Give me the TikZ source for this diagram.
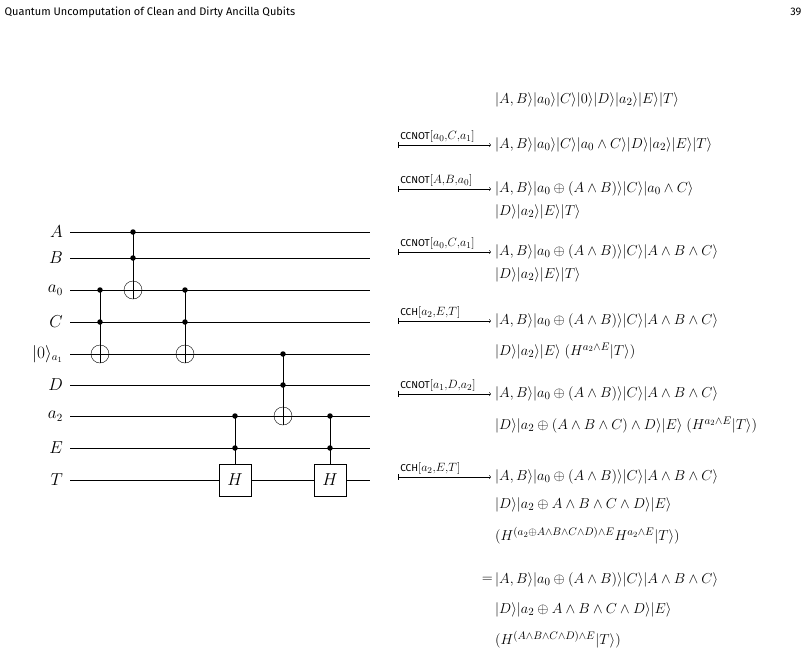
\documentclass[tikz,border=0pt]{standalone}
\usepackage{fontspec}
\setmainfont{Liberation Serif}
\setsansfont{Fira Sans}
\usetikzlibrary{calc}
\usetikzlibrary{arrows}
\newcommand{\gsf}[1]{{\sffamily\fontsize{10}{10}\selectfont #1}}
\begin{document}
\begin{tikzpicture}[x=1pt,y=-1pt,
  ctrl/.style={circle,fill,inner sep=0pt,minimum size=5.5pt},
  targ/.style={circle,draw,inner sep=0pt,minimum size=18pt},
  hbox/.style={draw,fill=white,minimum size=32pt,inner sep=0pt,font=\fontsize{16}{16}\selectfont},
  etat/.style={anchor=west,inner sep=0pt,font=\fontsize{15.5}{17}\selectfont},
  fleche/.style={|->,>=to,line width=.5pt},
  porte/.style={above,inner sep=2pt,font=\fontsize{12.5}{12}\selectfont}]
\useasboundingbox (0,0) rectangle (812,654);

% en-tete
\node[anchor=west,font=\sffamily\fontsize{11}{11}\selectfont] (titre) at (1,12) {Quantum Uncomputation of Clean and Dirty Ancilla Qubits};
\node[anchor=east,font=\sffamily\fontsize{11}{11}\selectfont] (page) at (805,12) {39};

% fils du circuit
\foreach \n/\y/\t in {A/232/$A$,B/258/$B$,a0/290/$a_0$,C/322/$C$,a1/354/$|0\rangle_{a_1}$,D/385/$D$,a2/416/$a_2$,E/448/$E$,T/480/$T$}{
  \node[anchor=east,inner sep=0pt,font=\fontsize{16}{16}\selectfont] (l\n) at (63,\y) {\t};
  \coordinate (d\n) at (70,\y);
  \coordinate (f\n) at (370,\y);
  \draw[line width=.8pt] (d\n) -- (f\n);
}

% portes CCNOT
\foreach \x/\a/\b/\c in {100/a0/C/a1,133/A/B/a0,185/a0/C/a1,283/a1/D/a2}{
  \node[ctrl] (c1\x) at (\x,0 |- d\a) {};
  \node[ctrl] (c2\x) at (\x,0 |- d\b) {};
  \node[targ] (t\x) at (\x,0 |- d\c) {};
  \draw[line width=.8pt] (c1\x.center) -- (t\x.south);
  \draw[line width=.8pt] (t\x.west) -- (t\x.east);
}
% portes CCH
\foreach \x in {235,330}{
  \node[ctrl] (c1\x) at (\x,0 |- da2) {};
  \node[ctrl] (c2\x) at (\x,0 |- dE) {};
  \node[hbox] (h\x) at (\x,0 |- dT) {$H$};
  \draw[line width=.8pt] (c1\x.center) -- (h\x.north);
}

% etats
\node[etat] (e1) at (495,100) {$|A,B\rangle|a_0\rangle|C\rangle|0\rangle|D\rangle|a_2\rangle|E\rangle|T\rangle$};
\node[etat] (e2) at (495,145) {$|A,B\rangle|a_0\rangle|C\rangle|a_0\wedge C\rangle|D\rangle|a_2\rangle|E\rangle|T\rangle$};
\node[etat] (e3) at (495,189) {$|A,B\rangle|a_0\oplus(A\wedge B)\rangle|C\rangle|a_0\wedge C\rangle$};
\node[etat] (e3b) at (495,212) {$|D\rangle|a_2\rangle|E\rangle|T\rangle$};
\node[etat] (e4) at (495,252) {$|A,B\rangle|a_0\oplus(A\wedge B)\rangle|C\rangle|A\wedge B\wedge C\rangle$};
\node[etat] (e4b) at (495,275) {$|D\rangle|a_2\rangle|E\rangle|T\rangle$};
\node[etat] (e5) at (495,321) {$|A,B\rangle|a_0\oplus(A\wedge B)\rangle|C\rangle|A\wedge B\wedge C\rangle$};
\node[etat] (e5b) at (495,351) {$|D\rangle|a_2\rangle|E\rangle\ (H^{a_2\wedge E}|T\rangle)$};
\node[etat] (e6) at (495,394) {$|A,B\rangle|a_0\oplus(A\wedge B)\rangle|C\rangle|A\wedge B\wedge C\rangle$};
\node[etat] (e6b) at (495,425) {$|D\rangle|a_2\oplus(A\wedge B\wedge C)\wedge D\rangle|E\rangle\ (H^{a_2\wedge E}|T\rangle)$};
\node[etat] (e7) at (495,477) {$|A,B\rangle|a_0\oplus(A\wedge B)\rangle|C\rangle|A\wedge B\wedge C\rangle$};
\node[etat] (e7b) at (495,505) {$|D\rangle|a_2\oplus A\wedge B\wedge C\wedge D\rangle|E\rangle$};
\node[etat] (e7c) at (495,536) {$(H^{(a_2\oplus A\wedge B\wedge C\wedge D)\wedge E}H^{a_2\wedge E}|T\rangle)$};
\node[etat,anchor=east] (egal) at (493,580) {$=$};
\node[etat] (e8) at (495,580) {$|A,B\rangle|a_0\oplus(A\wedge B)\rangle|C\rangle|A\wedge B\wedge C\rangle$};
\node[etat] (e8b) at (495,610) {$|D\rangle|a_2\oplus A\wedge B\wedge C\wedge D\rangle|E\rangle$};
\node[etat] (e8c) at (495,640) {$(H^{(A\wedge B\wedge C\wedge D)\wedge E}|T\rangle)$};

% fleches
\foreach \e/\g in {e2/{\gsf{CCNOT}$[a_0{,}C{,}a_1]$},e3/{\gsf{CCNOT}$[A{,}B{,}a_0]$},e4/{\gsf{CCNOT}$[a_0{,}C{,}a_1]$},e5/{\gsf{CCH}$[a_2{,}E{,}T]$},e6/{\gsf{CCNOT}$[a_1{,}D{,}a_2]$},e7/{\gsf{CCH}$[a_2{,}E{,}T]$}}{
  \coordinate (s\e) at (398,0 |- \e.west);
  \coordinate (b\e) at ($(\e.west)+(-4,0)$);
  \draw[fleche] (s\e) -- (b\e) node[porte,pos=0,anchor=south west] {\g};
}
\end{tikzpicture}
\end{document}
